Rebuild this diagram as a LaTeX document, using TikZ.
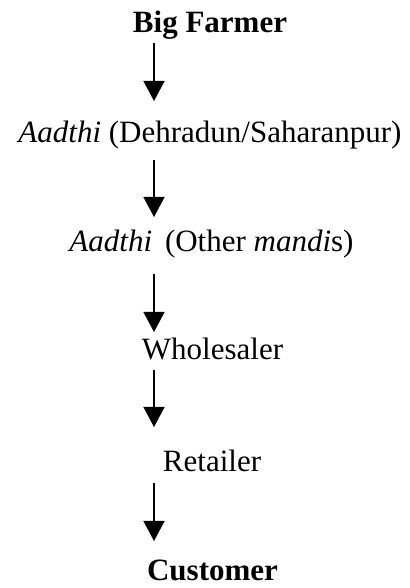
\documentclass[tikz,border=0pt]{standalone}
\usepackage{fontspec}
\setmainfont{Liberation Serif}
\usetikzlibrary{arrows.meta}
\begin{document}
\begin{tikzpicture}[x=1pt,y=1pt,
  lbl/.style={anchor=base,inner sep=0pt,font=\fontsize{31}{37}\selectfont},
  arr/.style={line width=1.3pt,-{Triangle[length=20pt,width=21pt]}}]
\useasboundingbox (0,0) rectangle (409,588);
\node[lbl] (bf) at (210,555) {\textbf{Big Farmer}};
\node[lbl] (a1) at (210,445) {\textit{Aadthi} (Dehradun/Saharanpur)};
\node[lbl] (a2) at (211.5,336) {\textit{Aadthi}\, (Other \textit{mandi}s)};
\node[lbl] (ws) at (212.5,228) {Wholesaler};
\node[lbl] (rt) at (212,116) {Retailer};
\node[lbl] (cu) at (212.5,7) {\textbf{Customer}};
\coordinate (s1) at (154,545); \coordinate (e1) at (154,487);
\coordinate (s2) at (154,428); \coordinate (e2) at (154,371);
\coordinate (s3) at (154,314); \coordinate (e3) at (154,256);
\coordinate (s4) at (154,218); \coordinate (e4) at (154,161);
\coordinate (s5) at (154,105); \coordinate (e5) at (154,47);
\draw[arr] (s1) -- (e1);
\draw[arr] (s2) -- (e2);
\draw[arr] (s3) -- (e3);
\draw[arr] (s4) -- (e4);
\draw[arr] (s5) -- (e5);
\end{tikzpicture}
\end{document}
